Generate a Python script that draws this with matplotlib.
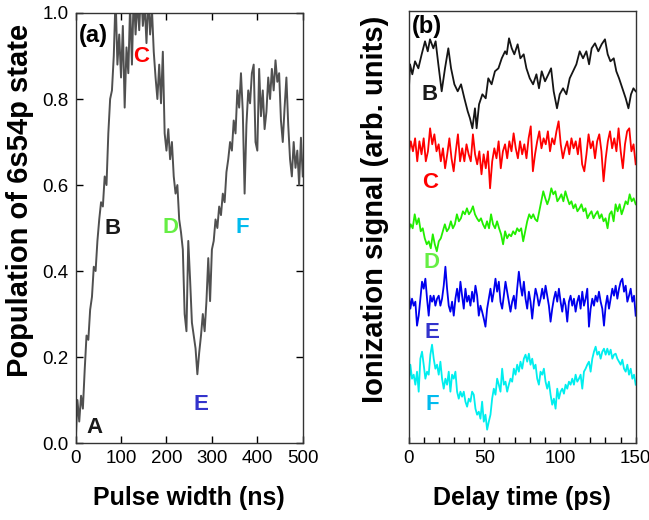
import numpy as np
import matplotlib
matplotlib.use('Agg')
import matplotlib.pyplot as plt
from matplotlib.ticker import MultipleLocator

plt.rcParams['font.family'] = ['Liberation Sans', 'DejaVu Sans']

# (a) population of 6s54p vs pulse width, every 4 ns
pulse_width = np.arange(0, 501, 4)
population = [0.00, 0.10, 0.05, 0.11, 0.08, 0.17, 0.25, 0.24, 0.31, 0.34,
              0.41, 0.40, 0.47, 0.52, 0.56, 0.55, 0.62, 0.60, 0.72, 0.80,
              0.82, 0.90, 1.04, 0.88, 0.95, 0.85, 0.97, 0.78, 0.92, 0.86,
              1.02, 0.88, 1.05, 0.95, 1.03, 0.96, 1.06, 0.97, 1.02, 0.93,
              1.04, 0.95, 1.01, 0.91, 0.85, 0.80, 0.88, 0.79, 0.91, 0.72,
              0.68, 0.73, 0.66, 0.70, 0.62, 0.58, 0.60, 0.52, 0.49, 0.45,
              0.30, 0.26, 0.47, 0.38, 0.28, 0.25, 0.22, 0.16, 0.21, 0.25,
              0.30, 0.26, 0.33, 0.43, 0.33, 0.45, 0.47, 0.52, 0.50, 0.55,
              0.53, 0.58, 0.56, 0.63, 0.66, 0.70, 0.68, 0.75, 0.72, 0.82,
              0.78, 0.86, 0.77, 0.58, 0.74, 0.82, 0.79, 0.86, 0.88, 0.70,
              0.68, 0.87, 0.76, 0.82, 0.73, 0.77, 0.85, 0.80, 0.87, 0.82,
              0.89, 0.84, 0.86, 0.75, 0.70, 0.78, 0.85, 0.74, 0.66, 0.62,
              0.70, 0.64, 0.68, 0.60, 0.71, 0.62]

# (b) ionization signal vs delay time for pulse widths B..F
delay_b = [0.0, 0.9, 2.4, 4.2, 6.4, 8.6, 10.8, 12.6, 14.1, 16.3,
           17.8, 19.6, 21.8, 24.0, 26.2, 28.0, 30.2, 32.4, 34.6, 36.8,
           39.0, 40.5, 42.1, 43.8, 44.9, 46.5, 48.7, 50.9, 52.6, 54.8,
           57.0, 59.3, 61.5, 63.7, 64.8, 66.3, 68.1, 69.8, 72.0, 73.8,
           76.0, 77.8, 80.0, 82.2, 84.4, 86.1, 87.9, 90.1, 92.3, 94.1,
           95.8, 98.0, 99.8, 102.0, 104.2, 106.4, 108.6, 110.8, 113.0, 115.2,
           117.4, 119.2, 120.9, 123.1, 125.3, 127.5, 129.7, 131.5, 133.3, 135.5,
           137.2, 139.0, 141.2, 143.4, 145.2, 146.9, 148.5, 150.0]
signal_b = [3.7, 6.7, 5.7, 7.0, 6.3, 7.7, 9.0, 8.0, 9.2, 8.3,
            9.0, 6.7, 4.0, 6.3, 8.3, 6.3, 4.7, 4.0, 4.7, 3.3,
            2.0, 1.3, 0.3, 2.3, 0.3, 2.7, 3.7, 3.3, 5.3, 4.7,
            6.0, 6.3, 7.3, 8.0, 7.7, 9.3, 8.3, 7.7, 8.7, 7.3,
            7.7, 6.3, 5.3, 4.7, 5.7, 4.3, 6.0, 5.0, 5.7, 6.3,
            4.0, 2.3, 3.7, 4.3, 3.7, 5.3, 6.0, 6.7, 8.0, 7.3,
            8.0, 6.7, 8.3, 8.8, 8.0, 8.7, 9.2, 7.7, 7.0, 7.3,
            6.0, 5.3, 4.3, 3.3, 2.3, 3.7, 4.3, 4.0]
signal_c = [3.7, 5.0, 4.0, 5.3, 3.0, 5.0, 3.7, 5.3, 3.0, 4.0,
            6.3, 4.7, 5.7, 4.0, 4.7, 3.0, 4.3, 2.3, 3.7, 5.3,
            3.3, 2.0, 4.0, 5.7, 3.0, 4.3, 3.0, 4.7, 3.7, 3.0,
            5.7, 3.7, 2.7, 4.0, 1.7, 3.7, 2.3, 4.0, 0.3, 3.0,
            4.3, 3.3, 5.0, 2.3, 4.0, 4.7, 3.3, 5.0, 4.0, 5.8,
            4.3, 3.3, 5.0, 3.7, 4.7, 3.3, 5.3, 6.5, 2.0, 3.7,
            5.0, 6.0, 4.3, 5.3, 4.7, 6.0, 4.0, 5.3, 4.7, 6.0,
            7.0, 4.7, 3.3, 4.3, 5.0, 3.7, 5.3, 4.3, 5.0, 3.7,
            5.3, 2.7, 2.0, 3.7, 5.7, 4.3, 5.0, 3.3, 5.0, 5.7,
            4.0, 1.0, 3.3, 5.0, 6.0, 4.3, 5.3, 4.0, 6.3, 4.0,
            2.3, 4.7, 6.0, 6.3, 4.0, 4.7, 2.7]
signal_d = [2.0, 2.7, 2.3, 3.7, 2.7, 3.3, 2.0, 2.3, 1.3, 0.7,
            1.0, 0.3, 1.7, 0.7, 0.0, 1.0, 1.3, 2.0, 2.7, 2.0,
            2.3, 3.0, 2.3, 2.7, 3.7, 3.0, 3.3, 4.0, 3.7, 4.3,
            3.7, 4.0, 4.5, 3.7, 3.3, 3.0, 3.3, 2.7, 2.3, 3.0,
            2.3, 3.7, 2.7, 2.3, 3.0, 2.3, 1.7, 0.7, 2.0, 1.3,
            1.7, 1.5, 2.0, 1.7, 2.3, 2.0, 2.3, 1.0, 2.0, 3.0,
            3.7, 3.3, 3.7, 3.2, 3.0, 4.0, 5.0, 6.0, 5.3, 4.7,
            5.3, 6.3, 5.7, 6.0, 5.0, 5.3, 5.7, 5.0, 6.0, 5.3,
            4.7, 5.0, 4.3, 4.7, 4.0, 4.3, 4.7, 4.0, 4.3, 3.3,
            3.7, 4.0, 3.3, 3.7, 4.0, 3.3, 3.7, 3.0, 3.3, 2.3,
            3.7, 4.0, 3.0, 4.7, 4.0, 4.7, 3.7, 4.3, 5.0, 4.7,
            5.7, 5.0, 5.3, 4.7]
signal_e = [3.7, 2.0, 3.0, 2.3, 2.7, 0.3, 1.3, 3.0, 4.7, 4.0,
            5.0, 3.0, 1.3, 3.3, 2.7, 3.3, 2.3, 3.0, 3.3, 2.3,
            3.0, 4.3, 6.2, 4.0, 2.3, 1.7, 2.7, 1.3, 3.0, 4.0,
            2.7, 4.7, 3.3, 2.0, 4.0, 2.7, 3.3, 2.3, 3.7, 2.7,
            4.3, 3.3, 1.3, 2.3, 1.7, 1.0, 0.2, 2.0, 3.0, 4.0,
            2.7, 3.7, 5.0, 3.7, 4.7, 2.7, 2.0, 3.3, 4.7, 3.7,
            2.7, 1.7, 2.7, 3.3, 2.0, 4.0, 5.7, 4.3, 3.3, 4.7,
            3.0, 2.0, 3.7, 2.7, 1.0, 2.7, 4.0, 3.3, 2.3, 3.0,
            4.0, 3.0, 4.3, 3.3, 2.3, 0.7, 2.0, 3.0, 3.7, 2.7,
            4.0, 2.7, 1.7, 3.0, 2.3, 0.7, 2.7, 3.3, 2.3, 3.0,
            1.7, 2.7, 3.3, 2.0, 3.7, 2.3, 3.0, 4.0, 0.2, 2.0,
            3.0, 2.3, 3.3, 2.7, 3.7, 2.7, 2.0, 0.3, 2.3, 3.3,
            2.0, 3.0, 4.0, 3.3, 4.3, 3.0, 4.0, 4.7, 5.0, 3.7,
            4.3, 2.7, 3.3, 4.0, 2.7, 3.3, 1.3]
signal_f = [4.3, 6.7, 5.3, 5.7, 4.7, 6.0, 4.0, 7.3, 8.0, 6.7,
            5.3, 6.0, 5.7, 7.7, 8.7, 7.3, 6.3, 6.7, 5.7, 7.0,
            5.3, 4.3, 5.3, 4.7, 6.0, 4.0, 5.7, 5.3, 6.0, 4.0,
            3.3, 4.0, 3.5, 4.0, 3.0, 2.5, 3.3, 3.0, 4.0, 3.7,
            2.3, 1.7, 2.0, 1.3, 3.0, 1.0, 1.7, 0.2, 1.0, 1.7,
            3.3, 4.3, 3.7, 5.3, 4.7, 4.0, 6.3, 4.7, 5.0, 4.0,
            4.7, 5.3, 5.0, 6.3, 5.7, 6.7, 6.0, 7.0, 6.3, 7.3,
            7.7, 7.0, 7.8, 6.7, 7.3, 6.3, 6.7, 5.3, 4.7, 6.0,
            5.7, 6.3, 5.0, 4.3, 5.0, 3.7, 2.7, 3.3, 2.3, 4.3,
            3.3, 4.0, 4.3, 3.8, 4.7, 4.3, 5.0, 4.7, 5.3, 4.7,
            5.7, 5.0, 5.3, 5.7, 4.3, 6.0, 6.3, 6.7, 7.0, 6.0,
            7.3, 8.0, 8.5, 7.7, 8.0, 7.3, 8.0, 8.3, 7.7, 8.3,
            7.7, 8.2, 7.3, 7.7, 7.8, 7.3, 7.0, 6.7, 7.2, 6.3,
            6.0, 6.7, 5.7, 6.3, 5.3, 5.7, 4.7]

labels = ['B', 'C', 'D', 'E', 'F']
traces = [signal_b, signal_c, signal_d, signal_e, signal_f]
offsets = [31.14, 25.14, 19.14, 11.4, 1.1]
line_colors = ['#151515', '#ff0000', '#22ee00', '#0000ee', '#00eeee']
text_colors = ['#1a1a1a', '#ff0000', '#66ee44', '#3333cc', '#00bbee']

fig = plt.figure(figsize=(6.49, 5.20), dpi=100)
ax1 = fig.add_axes([0.1165, 0.148, 0.350, 0.827])
ax2 = fig.add_axes([0.6297, 0.1487, 0.3498, 0.8307])

# ---- panel (a)
ax1.plot(pulse_width, population, '-', color='#505050', lw=1.4)
ax1.set_xlim(0, 500)
ax1.set_ylim(0, 1.0)
ax1.xaxis.set_major_locator(MultipleLocator(100))
ax1.yaxis.set_major_locator(MultipleLocator(0.2))
ax1.yaxis.set_major_formatter(plt.FormatStrFormatter('%.1f'))
ax1.tick_params(direction='in', length=5, width=1, labelsize=13.5,
                top=True, right=True, pad=5)
ax1.set_xlabel('Pulse width (ns)', fontsize=18, fontweight='bold', labelpad=14)
ax1.set_ylabel('Population of 6s54p state', fontsize=21, fontweight='bold',
               labelpad=6, y=0.563)
ax1.text(0.015, 0.975, '(a)', transform=ax1.transAxes, fontsize=17,
         fontweight='bold', ha='left', va='top')
let_a = {'A': (42, 0.035), 'B': (82, 0.50), 'C': (144, 0.898),
         'D': (208, 0.502), 'E': (276, 0.09), 'F': (368, 0.502)}
let_colors = {'A': '#1a1a1a', 'B': '#1a1a1a', 'C': '#ff0000',
              'D': '#66ee44', 'E': '#3333cc', 'F': '#00bbee'}
for k, (x, y) in let_a.items():
    ax1.text(x, y, k, color=let_colors[k], fontsize=16, fontweight='bold',
             ha='center', va='center')

# ---- panel (b)
delay = {}
delay['B'] = delay_b
for lab, sig, off, col in zip(labels, traces, offsets, line_colors):
    t = delay.get(lab, np.linspace(0, 150, len(sig)))
    ax2.plot(t, np.array(sig) + off, '-', color=col, lw=1.3)
lab_pos = [(14, 34.8), (14, 26.0), (15.4, 18.0), (15.4, 11.0), (15.4, 3.8)]
for lab, (x, y), col in zip(labels, lab_pos, text_colors):
    ax2.text(x, y, lab, color=col, fontsize=16, fontweight='bold',
             ha='center', va='center')
ax2.set_xlim(0, 150)
ax2.set_ylim(0, 43.2)
ax2.xaxis.set_major_locator(MultipleLocator(50))
ax2.xaxis.set_minor_locator(MultipleLocator(10))
ax2.set_yticks([])
ax2.tick_params(axis='x', which='both', direction='in', length=4, width=1,
                labelsize=13.5, pad=5)
ax2.set_xlabel('Delay time (ps)', fontsize=18, fontweight='bold', labelpad=14)
ax2.set_ylabel('Ionization signal (arb. units)', fontsize=21,
               fontweight='bold', labelpad=14, y=0.541)
ax2.text(0.015, 0.99, '(b)', transform=ax2.transAxes, fontsize=17,
         fontweight='bold', ha='left', va='top')

for ax in (ax1, ax2):
    for s in ax.spines.values():
        s.set_color('#333333')
        s.set_linewidth(1)

plt.savefig('out.png', dpi=100)
plt.close()
